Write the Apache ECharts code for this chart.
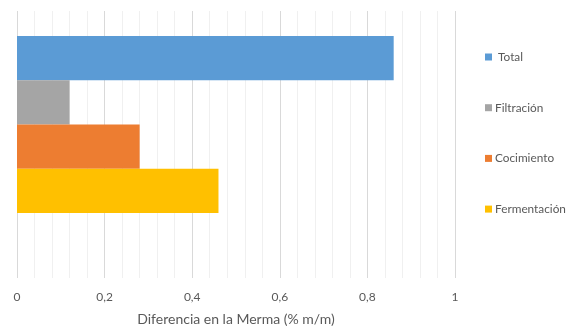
<!DOCTYPE html>
<html>
<head>
<meta charset="utf-8">
<script src="https://cdn.jsdelivr.net/npm/echarts@6/dist/echarts.min.js"></script>
<style>
  html, body { margin: 0; padding: 0; background: #fff; }
  #chart { width: 568px; height: 331px; }
</style>
</head>
<body>
<div id="chart"></div>
<script>
// data
const seriesNames = [' Total', 'Filtración', 'Cocimiento', 'Fermentación'];
const seriesValues = [0.86, 0.12, 0.28, 0.46];
const seriesColors = ['#5B9BD5', '#A5A5A5', '#ED7D31', '#FFC000'];
const xTicks = [0, 0.2, 0.4, 0.6, 0.8, 1];
const xTitle = 'Diferencia en la Merma (% m/m)';

const font = 'Lato, "Liberation Sans", sans-serif';
const chart = echarts.init(document.getElementById('chart'));

const series = seriesNames.map((name, i) => ({
  name: name,
  type: 'bar',
  data: [seriesValues[i]],
  barWidth: 44.3,
  barGap: '0%',
  itemStyle: { color: seriesColors[i] },
  silent: true
}));
// empty slot Excel leaves under the group
series.push({ name: '', type: 'bar', data: [null], barWidth: 40, barGap: '0%', silent: true });

chart.setOption({
  animation: false,
  textStyle: { fontFamily: font },
  grid: { left: 17, right: 113, top: 11, bottom: 53 },
  legend: {
    data: seriesNames,
    orient: 'vertical',
    left: 480,
    top: 46,
    itemWidth: 7,
    itemHeight: 7,
    itemGap: 38.7,
    icon: 'rect',
    textStyle: { fontFamily: font, fontSize: 11.8, color: '#595959', padding: [0, 0, 0, -2] }
  },
  xAxis: {
    type: 'value',
    min: xTicks[0],
    max: xTicks[xTicks.length - 1],
    interval: 0.2,
    name: xTitle,
    nameLocation: 'middle',
    nameGap: 34,
    nameTextStyle: { fontFamily: font, fontSize: 14, color: '#595959' },
    axisLine: { show: false },
    axisTick: { show: false },
    axisLabel: {
      margin: 13,
      fontSize: 12,
      color: '#595959',
      formatter: v => String(v).replace('.', ',')
    },
    splitLine: { show: true, lineStyle: { color: '#D9D9D9', width: 1 } },
    minorTick: { show: false, splitNumber: 5 },
    minorSplitLine: { show: true, lineStyle: { color: '#F0F0F0', width: 1 } }
  },
  yAxis: {
    type: 'category',
    data: [''],
    axisLine: { show: false },
    axisTick: { show: false },
    axisLabel: { show: false }
  },
  series: series
});
</script>
</body>
</html>
